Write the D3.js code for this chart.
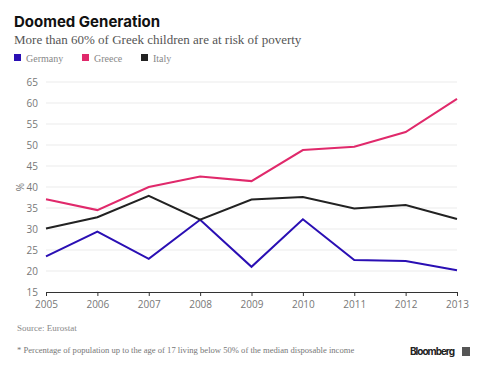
<!DOCTYPE html>
<html>
<head>
<meta charset="utf-8">
<script src="https://cdn.jsdelivr.net/npm/d3@7"></script>
<style>
  body { margin: 0; background: #fff; }
  .tick text { font-family: "Open Sans", "DejaVu Sans", sans-serif; fill: #777; }
  .serif { font-family: "Liberation Serif", "DejaVu Serif", serif; }
</style>
</head>
<body>
<div id="chart"></div>
<script>
// data
var years = [2005, 2006, 2007, 2008, 2009, 2010, 2011, 2012, 2013];
var germany = [23.5, 29.4, 22.9, 32.2, 21.0, 32.3, 22.6, 22.4, 20.2];
var greece = [37.1, 34.5, 40.0, 42.5, 41.4, 48.8, 49.6, 53.1, 61.0];
var italy = [30.1, 32.8, 37.9, 32.2, 37.0, 37.6, 34.9, 35.7, 32.4];
var yTicks = [15, 20, 25, 30, 35, 40, 45, 50, 55, 60, 65];
var seriesNames = ["Germany", "Greece", "Italy"];
var seriesColors = ["#2a0fb4", "#e0296b", "#222222"];

var width = 488, height = 375;
var margin = { top: 82, right: 31, bottom: 83, left: 46 };
var w = width - margin.left - margin.right,
    h = height - margin.top - margin.bottom;

var svg = d3.select("#chart")
    .append("svg")
    .attr("width", width)
    .attr("height", height);

// title + subtitle
svg.append("text")
    .attr("x", 14).attr("y", 27)
    .style("font-family", "Inter, Roboto, sans-serif")
    .style("font-weight", "bold")
    .style("font-size", "15px")
    .style("fill", "#111")
    .text("Doomed Generation");

svg.append("text")
    .attr("class", "serif")
    .attr("x", 14).attr("y", 44)
    .style("font-size", "13px")
    .style("fill", "#555")
    .text("More than 60% of Greek children are at risk of poverty");

// legend
var legendX = [14, 82, 141];
seriesNames.forEach(function(name, i) {
    svg.append("rect")
        .attr("x", legendX[i]).attr("y", 54)
        .attr("width", 7).attr("height", 7)
        .style("fill", seriesColors[i]);
    svg.append("text")
        .attr("class", "serif")
        .attr("x", legendX[i] + 12).attr("y", 61.5)
        .style("font-size", "10px")
        .style("fill", "#888")
        .text(name);
});

var g = svg.append("g")
    .attr("transform", "translate(" + margin.left + "," + margin.top + ")");

var x = d3.scaleLinear().domain([2005, 2013]).range([0, w]);
var y = d3.scaleLinear().domain([15, 65]).range([h, 0]);

// gridlines
g.append("g")
    .attr("class", "grid")
    .selectAll("line")
    .data(yTicks.slice(1))
    .enter()
    .append("line")
    .attr("x1", 0).attr("x2", w)
    .attr("y1", function(d) { return y(d); })
    .attr("y2", function(d) { return y(d); })
    .style("stroke", "#ebebeb")
    .style("stroke-width", 1);

// y axis labels
var yAxis = g.append("g")
    .call(d3.axisLeft(y).tickValues(yTicks).tickSize(0).tickPadding(8));
yAxis.select(".domain").remove();
yAxis.selectAll("text").style("font-size", "10px");

svg.append("text")
    .attr("transform", "translate(24," + (margin.top + y(40)) + ") rotate(-90)")
    .attr("text-anchor", "middle")
    .style("font-family", "Open Sans, sans-serif")
    .style("font-size", "10px")
    .style("fill", "#777")
    .text("%");

// x axis
var xAxis = g.append("g")
    .attr("transform", "translate(0," + h + ")")
    .call(d3.axisBottom(x).tickValues(years).tickFormat(d3.format("d")).tickSize(4).tickPadding(5));
xAxis.select(".domain")
    .attr("d", "M0.5,4V0.5H" + (w + 0.5) + "V4")
    .style("stroke", "#333");
xAxis.selectAll(".tick line").style("stroke", "#333");
xAxis.selectAll("text").style("font-size", "10px");

// lines
var line = d3.line()
    .x(function(d, i) { return x(years[i]); })
    .y(function(d) { return y(d); });

[germany, greece, italy].forEach(function(s, i) {
    g.append("path")
        .datum(s)
        .attr("d", line)
        .style("fill", "none")
        .style("stroke", seriesColors[i])
        .style("stroke-width", 2);
});

// footer
svg.append("text")
    .attr("class", "serif")
    .attr("x", 17).attr("y", 331)
    .style("font-size", "9px")
    .style("fill", "#888")
    .text("Source: Eurostat");

svg.append("text")
    .attr("class", "serif")
    .attr("x", 17).attr("y", 353)
    .style("font-size", "8.6px")
    .style("fill", "#777")
    .text("* Percentage of population up to the age of 17 living below 50% of the median disposable income");

svg.append("text")
    .attr("x", 410).attr("y", 355)
    .attr("textLength", 45)
    .style("font-family", "Inter, Roboto, sans-serif")
    .style("font-weight", "bold")
    .style("font-size", "10px")
    .style("fill", "#222")
    .text("Bloomberg");

svg.append("rect")
    .attr("x", 462).attr("y", 347)
    .attr("width", 8).attr("height", 9)
    .style("fill", "#555");
</script>
</body>
</html>
